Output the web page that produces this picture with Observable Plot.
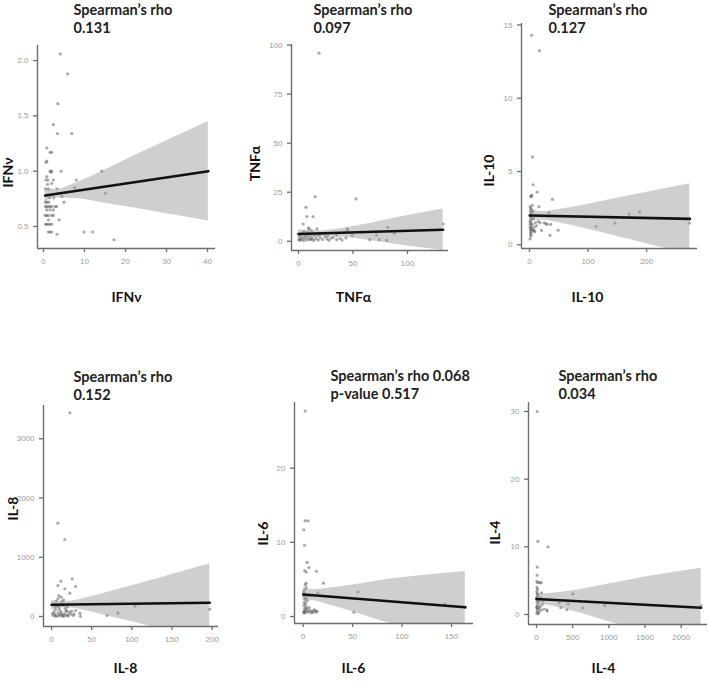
<!DOCTYPE html>
<html>
<head>
<meta charset="utf-8">
<script src="https://cdn.jsdelivr.net/npm/d3@7"></script>
<script src="https://cdn.jsdelivr.net/npm/@observablehq/plot@0.6"></script>
<style>
  body { margin: 0; background: #fff; }
  #root { position: relative; width: 709px; height: 684px; background: #fff; overflow: hidden; }
  .cell { position: absolute; }
</style>
</head>
<body>
<div id="root"></div>
<script>
// ---------- data ----------
const titles = ["Spearman’s rho\n0.131", "Spearman’s rho\n0.097", "Spearman’s rho\n0.127",
                "Spearman’s rho\n0.152", "Spearman’s rho 0.068\np-value 0.517", "Spearman’s rho\n0.034"];
const varNames = ["IFNν", "TNFα", "IL-10", "IL-8", "IL-6", "IL-4"];

// IFN
const ifnPoints = [[4.1,2.06],[5.9,1.88],[3.5,1.61],[2.4,1.42],[3.4,1.34],[6.9,1.34],[0.8,1.21],[1.6,1.17],[2.0,1.17],[0.8,1.09],[0.6,1.08],[1.6,1.0],[2.0,1.0],[1.8,0.99],[4.3,1.0],[14.2,1.0],[0.8,0.95],[1.1,0.92],[0.6,0.92],[2.4,0.92],[8.0,0.92],[2.0,0.89],[3.3,0.84],[1.2,0.84],[0.5,0.84],[15.1,0.8],[4.5,0.77],[5.0,0.72],[1.5,0.76],[2.5,0.76],[0.7,0.78],[0.8,0.72],[1.3,0.72],[0.8,0.68],[1.2,0.68],[1.6,0.68],[2.0,0.68],[2.8,0.68],[3.2,0.68],[0.5,0.68],[0.8,0.65],[1.6,0.65],[2.4,0.65],[0.4,0.6],[0.8,0.6],[1.2,0.6],[2.0,0.6],[2.4,0.6],[3.8,0.56],[0.8,0.52],[1.2,0.52],[1.6,0.52],[2.0,0.52],[0.5,0.52],[1.2,0.45],[1.6,0.45],[2.0,0.45],[3.3,0.43],[9.9,0.45],[12.0,0.45],[17.2,0.38],[1.2,0.56],[0.5,0.72],[1.0,0.88],[7.6,0.85]];
const ifnLineX = [0.4, 40.2], ifnLineY = [0.78, 1.0];
const ifnBandX = [0.4, 3, 8, 15, 20, 30, 40.2];
const ifnBandLo = [0.72, 0.757, 0.754, 0.71, 0.68, 0.615, 0.55];
const ifnBandHi = [0.84, 0.837, 0.894, 1.01, 1.10, 1.275, 1.45];
const ifnXTicks = [0, 10, 20, 30, 40], ifnYTicks = [0.5, 1.0, 1.5, 2.0];

// TNF
const tnfPoints = [[18.8,95.9],[15.4,22.8],[52.8,21.6],[6.8,17.3],[7.7,12.6],[13.3,12.6],[4.3,8.8],[9.9,6.3],[17.0,6.3],[44.8,6.3],[81.8,7.1],[132.7,8.8],[88,4.1],[71.6,3.2],[49.4,2.9],[65.4,0.8],[74,0.8],[80.9,0.5],[43.5,1.7],[1,0.5],[2,1.2],[3,0.8],[4,2.0],[5,0.3],[6,1.5],[7,2.6],[8,0.7],[9,1.9],[10,3.2],[11,0.9],[12,2.2],[13,1.1],[14,0.4],[15,2.8],[16,1.4],[18,0.6],[20,1.8],[22,0.9],[24,2.4],[26,1.2],[28,0.5],[30,1.6],[32,2.0],[35,0.8],[38,1.5],[40,0.6],[42,4.5],[3,4.0],[5,5.0],[8,4.6],[12,5.5],[2,3.2],[6,3.5],[10,4.2],[14,3.8],[20,3.5],[25,4.0],[18,2.9],[1,2.5],[0.5,1.0],[35,3.0],[45,5.5],[9,6.8],[11,1.0],[27,2.6]];
const tnfLineX = [0, 132.7], tnfLineY = [3.7, 5.9];
const tnfBandX = [0, 10, 20, 35, 50, 75, 100, 132.7];
const tnfBandLo = [1.5, 2.27, 2.73, 2.38, 1.53, -0.35, -2.44, -4.7];
const tnfBandHi = [5.9, 5.47, 5.33, 6.18, 7.53, 10.25, 13.16, 16.5];
const tnfXTicks = [0, 50, 100], tnfYTicks = [0, 25, 50, 75, 100];

// IL-10
const il10Points = [[3.4,14.3],[17,13.25],[5,6.0],[6.3,4.1],[13,3.6],[3.4,3.3],[39,3.1],[16,2.6],[33,2.2],[170,2.1],[188,2.25],[114.5,1.9],[36,1.4],[146,1.48],[114,1.25],[273,1.48],[20.5,0.98],[49,1.0],[35,0.64],[1,0.4],[2,0.6],[1.5,0.8],[3,0.9],[2,1.0],[4,1.1],[1,1.2],[3,1.3],[5,1.4],[2,1.5],[1,1.6],[4,1.7],[2,1.8],[3,1.9],[1,2.0],[2.5,2.1],[4,2.2],[1.5,2.3],[3,2.4],[2,2.5],[1,2.6],[5,2.7],[3,0.7],[6,1.0],[8,1.2],[10,1.5],[7,1.8],[12,1.3],[9,0.9],[15,1.6],[11,2.0],[6,2.3],[2,3.3],[4,3.4],[8,0.95],[25,1.5],[30,1.4],[28,1.45],[18,1.5],[1,1.4],[2,1.1]];
const il10LineX = [0.5, 274], il10LineY = [2.0, 1.77];
const il10BandX = [0.5, 10, 25, 50, 100, 150, 200, 274];
const il10BandLo = [1.55, 1.67, 1.68, 1.51, 1.07, 0.57, 0.08, -0.63];
const il10BandHi = [2.45, 2.31, 2.28, 2.41, 2.77, 3.17, 3.58, 4.17];
const il10XTicks = [0, 100, 200], il10YTicks = [0, 5, 10, 15];

// IL-8
const il8Points = [[22.8,3439],[7.9,1576],[16.6,1300],[25.7,636],[11.6,596],[7.9,523],[29.9,506],[16.6,467],[22.8,394],[9.1,354],[12,326],[35.3,56],[36,6],[69.3,17],[82.6,56],[103.7,174],[197,124],[27,17],[2,20],[4,40],[6,10],[8,60],[10,30],[12,80],[14,15],[16,50],[18,100],[20,25],[22,70],[24,40],[5,120],[7,180],[9,150],[11,200],[13,250],[15,280],[17,140],[19,90],[3,210],[6,260],[8,300],[10,110],[4,160],[12,45],[14,190],[20,160],[25,90],[28,40],[30,100],[1,50],[3,80],[5,5],[9,8],[13,12],[15,5],[18,20],[21,10]];
const il8LineX = [0, 197], il8LineY = [197, 231];
const il8BandX = [0, 10, 20, 40, 70, 100, 150, 197];
const il8BandLo = [117, 138.7, 145.5, 103.9, 9.1, -90.7, -262, -427];
const il8BandHi = [277, 258.7, 255.5, 303.9, 409.1, 519.3, 708, 889];
const il8XTicks = [0, 50, 100, 150, 200], il8YTicks = [0, 1000, 2000, 3000];

// IL-6
const il6Points = [[2,27.7],[2,12.9],[5,12.9],[0.7,11.7],[1.3,9.6],[4,7.3],[5.7,6.6],[13.4,6.1],[3,6.0],[1.5,6.2],[20.5,4.5],[14.8,3.2],[55.4,3.3],[51.3,0.58],[143,1.7],[164,1.26],[0.5,0.5],[1,0.7],[2,0.9],[1.5,1.1],[3,1.3],[0.8,1.5],[2.5,1.7],[1,1.9],[4,2.1],[2,2.3],[3,2.5],[1,2.7],[2,3.0],[0.5,3.3],[1.5,3.6],[3,3.9],[2,4.3],[5,0.6],[7,0.8],[9,0.7],[11,0.9],[13,0.6],[8,0.5],[6,1.2],[4,0.7],[10,0.55],[12,0.8],[14,0.7],[3,4.5],[6,2.8],[1,0.6],[2,0.5],[4,1.0]];
const il6LineX = [0, 164], il6LineY = [2.97, 1.26];
const il6BandX = [0, 10, 25, 50, 88, 120, 164];
const il6BandLo = [2.17, 2.12, 1.61, 0.65, -0.95, -2.08, -3.54];
const il6BandHi = [3.77, 3.62, 3.81, 4.25, 5.05, 5.52, 6.06];
const il6XTicks = [0, 50, 100, 150], il6YTicks = [0, 10, 20];

// IL-4
const il4Points = [[9,30],[19,10.8],[159,10.0],[9,7.0],[9,5.8],[5,4.9],[15,4.7],[45,4.7],[65,4.7],[500,3.05],[313,1.72],[439,1.58],[944,1.33],[640,0.99],[336,1.0],[420,0.7],[140,0.7],[2276,1.33],[150,0.5],[5,0.2],[10,0.5],[15,0.8],[8,1.0],[12,1.3],[20,1.6],[6,1.9],[25,2.2],[3,2.5],[18,2.8],[10,3.1],[4,3.4],[14,3.7],[7,4.0],[30,0.3],[40,0.9],[50,1.2],[60,0.6],[80,1.5],[100,0.8],[35,2.0],[55,2.5],[22,0.1],[2,1.1],[9,2.2],[16,3.0],[70,3.2],[90,2.0]];
const il4LineX = [0, 2276], il4LineY = [2.3, 0.99];
const il4BandX = [0, 100, 250, 500, 1000, 1500, 2276];
const il4BandLo = [1.5, 1.44, 1.16, 0.51, -1.08, -2.66, -4.87];
const il4BandHi = [3.1, 3.04, 3.16, 3.51, 4.52, 5.54, 6.85];
const il4XTicks = [0, 500, 1000, 1500, 2000], il4YTicks = [0, 10, 20, 30];

// ---------- layout ----------
const panels = [
  {points: ifnPoints, lineX: ifnLineX, lineY: ifnLineY, bandX: ifnBandX, bandLo: ifnBandLo, bandHi: ifnBandHi,
   xTicks: ifnXTicks, yTicks: ifnYTicks, yFmt: d3.format(".1f"), xDomain: [-1.46, 41.95], yDomain: [0.301, 2.136],
   box: {left: 0, top: 0, width: 232, height: 320, ml: 37, mt: 45, mr: 17, mb: 72},
   t: {dx: 36, dy: -35}, yl: {dx: -29, dy: 127}, xl: {dx: 89, dy: 252.5}},
  {points: tnfPoints, lineX: tnfLineX, lineY: tnfLineY, bandX: tnfBandX, bandLo: tnfBandLo, bandHi: tnfBandHi,
   xTicks: tnfXTicks, yTicks: tnfYTicks, yFmt: d3.format("d"), xDomain: [-6.4, 137.6], yDomain: [-4.7, 100.3],
   box: {left: 240, top: 0, width: 225, height: 320, ml: 51, mt: 44, mr: 17, mb: 70},
   t: {dx: 22, dy: -34}, yl: {dx: -36, dy: 119}, xl: {dx: 62, dy: 253.5}},
  {points: il10Points, lineX: il10LineX, lineY: il10LineY, bandX: il10BandX, bandLo: il10BandLo, bandHi: il10BandHi,
   xTicks: il10XTicks, yTicks: il10YTicks, yFmt: d3.format("d"), xDomain: [-13.7, 287], yDomain: [-0.25, 15.1],
   box: {left: 470, top: 0, width: 239, height: 320, ml: 51, mt: 23, mr: 12, mb: 72},
   t: {dx: 27, dy: -13}, yl: {dx: -32, dy: 147}, xl: {dx: 66, dy: 274.5}},
  {points: il8Points, lineX: il8LineX, lineY: il8LineY, bandX: il8BandX, bandLo: il8BandLo, bandHi: il8BandHi,
   xTicks: il8XTicks, yTicks: il8YTicks, yFmt: d3.format("d"), xDomain: [-10, 207.9], yDomain: [-169, 3562],
   box: {left: 0, top: 330, width: 230, height: 354, ml: 43, mt: 75, mr: 12, mb: 58},
   t: {dx: 30, dy: -28.5}, yl: {dx: -30, dy: 103}, xl: {dx: 82, dy: 263}},
  {points: il6Points, lineX: il6LineX, lineY: il6LineY, bandX: il6BandX, bandLo: il6BandLo, bandHi: il6BandHi,
   xTicks: il6XTicks, yTicks: il6YTicks, yFmt: d3.format("d"), xDomain: [-8.8, 172.3], yDomain: [-0.94, 28.86],
   box: {left: 240, top: 330, width: 236, height: 354, ml: 54, mt: 72, mr: 3, mb: 61},
   t: {dx: 36, dy: -26}, yl: {dx: -31, dy: 131}, xl: {dx: 59, dy: 266}},
  {points: il4Points, lineX: il4LineX, lineY: il4LineY, bandX: il4BandX, bandLo: il4BandLo, bandHi: il4BandHi,
   xTicks: il4XTicks, yTicks: il4YTicks, yFmt: d3.format("d"), xDomain: [-110.6, 2364], yDomain: [-1.48, 31.33],
   box: {left: 476, top: 330, width: 233, height: 354, ml: 52, mt: 72, mr: 2, mb: 60},
   t: {dx: 30, dy: -26}, yl: {dx: -33, dy: 130}, xl: {dx: 75, dy: 266}}
];

const root = document.getElementById("root");
const axisColor = "#6e6e6e";

panels.forEach((p, k) => {
  const pts = p.points.map(([x, y]) => ({x, y}));
  const band = p.bandX.map((x, i) => ({x, lo: p.bandLo[i], hi: p.bandHi[i]}));
  const line = p.lineX.map((x, i) => ({x, y: p.lineY[i]}));
  const lines = titles[k].split("\n");
  const boldText = (s, o) => Plot.text([s], {text: d => d, frameAnchor: "top-left", fontWeight: "bold",
    lineAnchor: "middle", textAnchor: "middle",
    fontFamily: "Lato, 'Open Sans', sans-serif", ...o});
  const svg = Plot.plot({
    width: p.box.width, height: p.box.height,
    marginLeft: p.box.ml, marginTop: p.box.mt, marginRight: p.box.mr, marginBottom: p.box.mb,
    x: {domain: p.xDomain, label: null},
    y: {domain: p.yDomain, label: null},
    style: {background: "transparent", overflow: "visible"},
    marks: [
      Plot.dot(pts, {x: "x", y: "y", r: 1.6, fill: "#555", fillOpacity: 0.5, clip: true}),
      Plot.areaY(band, {x: "x", y1: "lo", y2: "hi", fill: "#999", fillOpacity: 0.47, curve: "monotone-x", clip: true}),
      Plot.line(line, {x: "x", y: "y", stroke: "#111", strokeWidth: 2.6, clip: true}),
      Plot.ruleX([p.xDomain[0]], {stroke: axisColor, strokeWidth: 1.4}),
      Plot.ruleY([p.yDomain[0]], {stroke: axisColor, strokeWidth: 1.4}),
      Plot.axisX(p.xTicks, {tickSize: 4, tickFormat: () => "", color: axisColor, strokeWidth: 1.3, label: null}),
      Plot.axisY(p.yTicks, {tickSize: 4, tickFormat: () => "", color: axisColor, strokeWidth: 1.3, label: null}),
      Plot.axisX(p.xTicks, {tickSize: 0, tickPadding: 10, tickFormat: d3.format("d"), color: "#9a9a9a",
        fontSize: 8, fontFamily: "'Liberation Sans', Arial, sans-serif", label: null}),
      Plot.axisY(p.yTicks, {tickSize: 0, tickPadding: 9, tickFormat: p.yFmt, color: "#9a9a9a",
        fontSize: 8, fontFamily: "'Liberation Sans', Arial, sans-serif", label: null}),
      boldText(lines[0], {dx: p.t.dx, dy: p.t.dy, textAnchor: "start", fontSize: 14.5, fill: "#222"}),
      boldText(lines[1], {dx: p.t.dx, dy: p.t.dy + 18, textAnchor: "start", fontSize: 14.5, fill: "#222"}),
      boldText(varNames[k], {dx: p.yl.dx, dy: p.yl.dy, rotate: -90, fontSize: 14, fill: "#111"}),
      boldText(varNames[k], {dx: p.xl.dx, dy: p.xl.dy, fontSize: 14, fill: "#111"})
    ]
  });
  const cell = document.createElement("div");
  cell.className = "cell";
  cell.style.left = p.box.left + "px";
  cell.style.top = p.box.top + "px";
  cell.appendChild(svg);
  root.appendChild(cell);
});
</script>
</body>
</html>
